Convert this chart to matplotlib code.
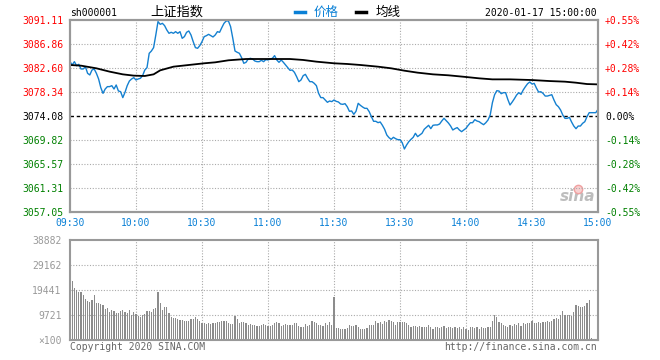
import matplotlib
matplotlib.use("Agg")
import matplotlib.pyplot as plt
from matplotlib.lines import Line2D

plt.rcParams['font.family'] = ['DejaVu Sans Mono', 'Noto Sans CJK SC']

# minute prices 09:30 .. 11:30 (121 points) and 13:01 .. 15:00 (120 points)
price_am = [
    3083.72, 3083.13, 3083.72, 3083.01, 3083.25, 3082.42, 3082.42, 3082.83, 3081.65, 3081.36,
    3082.24, 3082.42, 3081.65, 3080.65, 3079.11, 3078.10, 3078.87, 3079.29, 3079.29, 3079.46,
    3078.87, 3079.58, 3078.52, 3078.40, 3077.34, 3078.28, 3079.46, 3080.29, 3080.65, 3080.88,
    3080.47, 3080.65, 3080.77, 3081.24, 3082.24, 3082.66, 3085.20, 3085.61, 3086.21, 3088.45,
    3090.82, 3090.34, 3090.52, 3090.11, 3089.34, 3088.75, 3088.93, 3088.75, 3089.04, 3088.75,
    3089.04, 3087.86, 3088.16, 3088.93, 3089.16, 3088.45, 3087.27, 3086.21, 3086.09, 3086.56,
    3087.27, 3088.16, 3088.33, 3088.57, 3088.33, 3088.10, 3088.45, 3089.04, 3088.93, 3089.75,
    3090.52, 3090.94, 3090.94, 3089.93, 3087.86, 3085.61, 3085.38, 3085.20, 3084.43, 3083.43,
    3083.60, 3084.19, 3084.31, 3084.19, 3083.84, 3083.72, 3083.72, 3083.96, 3083.72, 3084.08,
    3084.02, 3084.19, 3084.31, 3084.79, 3084.02, 3083.60, 3084.02, 3083.60, 3083.13, 3082.66,
    3082.18, 3082.24, 3081.83, 3081.06, 3080.17, 3080.47, 3081.24, 3081.47, 3080.77, 3080.17,
    3080.17, 3079.88, 3079.46, 3078.10, 3077.34, 3077.34, 3076.92, 3076.51, 3076.74, 3076.63,
    3076.92,
]
price_pm = [
    3076.68, 3076.57, 3076.21, 3076.15, 3076.27, 3075.74, 3074.91, 3074.97, 3074.38, 3074.91,
    3076.33, 3075.97, 3075.68, 3075.44, 3075.44, 3074.85, 3073.96, 3073.14, 3073.14, 3072.90,
    3073.02, 3072.43, 3071.72, 3070.71, 3070.24, 3069.94, 3070.30, 3070.06, 3069.88, 3069.88,
    3069.35, 3068.23, 3068.94, 3069.53, 3069.94, 3070.30, 3071.01, 3070.42, 3070.71, 3071.01,
    3071.72, 3072.07, 3072.43, 3071.84, 3072.43, 3072.49, 3072.49, 3072.66, 3073.20, 3073.67,
    3073.26, 3072.84, 3072.31, 3071.60, 3071.84, 3072.02, 3071.60, 3071.30, 3071.60, 3071.90,
    3072.43, 3072.89, 3072.89, 3073.43, 3073.19, 3073.07, 3072.78, 3072.54, 3072.89, 3073.37,
    3074.25, 3076.44, 3077.86, 3078.57, 3078.51, 3078.04, 3078.22, 3078.22, 3077.03, 3076.03,
    3076.56, 3077.15, 3077.80, 3078.22, 3077.92, 3078.69, 3079.28, 3079.81, 3080.11, 3079.75,
    3079.87, 3079.04, 3078.33, 3078.39, 3078.10, 3077.62, 3077.62, 3077.74, 3077.86, 3076.91,
    3076.09, 3075.73, 3075.14, 3074.25, 3073.66, 3073.66, 3073.84, 3073.01, 3072.30, 3071.83,
    3072.30, 3072.30, 3072.78, 3073.07, 3073.96, 3074.67, 3074.67, 3074.67, 3074.67, 3075.26,
]

# average line, read at some minutes
avg_min = [0, 5, 12, 18, 24, 29, 34, 38, 41, 47, 54, 61, 66, 72, 80, 90, 100, 106, 112, 120,
           126, 132, 140, 146, 152, 158, 165, 172, 180, 186, 192, 200, 210, 218, 225, 230, 235, 240]
avg_val = [3083.13, 3083.01, 3082.54, 3081.95, 3081.47, 3081.24, 3081.18, 3081.47, 3082.18, 3082.83,
           3083.13, 3083.43, 3083.60, 3083.96, 3084.19, 3084.19, 3084.19, 3084.02, 3083.72, 3083.43,
           3083.31, 3083.13, 3082.83, 3082.54, 3082.12, 3081.77, 3081.47, 3081.30, 3081.00, 3080.76,
           3080.58, 3080.58, 3080.46, 3080.28, 3080.17, 3079.99, 3079.75, 3079.69]

# volume per minute (x100 shares)
vol_am = [
    38882, 23050, 20340, 19440, 18540, 18800, 17500, 15940, 15160, 14900,
    15420, 17500, 14510, 14510, 14000, 13480, 12050, 12570, 10750, 11660,
    11270, 10620, 10620, 11270, 11660, 11020, 10620, 11660, 9720, 10880,
    9980, 9460, 9070, 9720, 9980, 11270, 11270, 10750, 12050, 12570,
    18660, 14510, 11660, 12960, 12960, 10620, 8810, 8420, 8420, 8030,
    7780, 7780, 7520, 7520, 7520, 8030, 8290, 9070, 8030, 7520,
    6740, 6480, 6090, 6480, 6090, 6480, 6480, 7000, 7000, 7390,
    7390, 7390, 6480, 6220, 6220, 9330, 8290, 6740, 7130, 7130,
    6740, 5830, 6090, 5830, 5830, 5440, 5570, 5830, 6090, 5830,
    5440, 5440, 5700, 6480, 7000, 6740, 5440, 5960, 6220, 5960,
    5700, 5960, 6740, 6480, 5440, 5180, 5180, 6220, 5440, 5960,
    7520, 7000, 6480, 5700, 5960, 5440, 6480, 5960, 7000, 6000,
    16850,
]
vol_pm = [
    4670, 4670, 4150, 4150, 4280, 4540, 5830, 5440, 5440, 5830,
    4930, 4280, 4280, 4280, 4540, 5830, 5830, 5830, 7520, 6480,
    7000, 6220, 7520, 7130, 7780, 7260, 7000, 5700, 7000, 7000,
    7000, 7000, 6740, 5830, 5180, 5440, 5440, 4930, 5440, 5180,
    5180, 4930, 5700, 4930, 4410, 4930, 4930, 4670, 4930, 5440,
    4670, 4930, 4930, 4540, 4930, 4540, 4930, 4410, 4930, 4150,
    3890, 4930, 4930, 4670, 4930, 4410, 5180, 4670, 4670, 5180,
    4930, 7390, 9720, 8810, 7000, 6740, 5960, 5440, 5180, 5700,
    5440, 6220, 5700, 6480, 5440, 6480, 6220, 6740, 6480, 7260,
    6740, 6740, 7000, 6740, 7000, 7000, 7520, 7000, 7520, 8030,
    8550, 8290, 9590, 11150, 9850, 9590, 9850, 9330, 11020, 13600,
    13220, 12700, 12960, 13220, 14260, 15550, 650, 0, 0, 0,
]

pre_close = 3074.08
price_ticks = [3057.05, 3061.31, 3065.57, 3069.82, 3074.08, 3078.34, 3082.60, 3086.86, 3091.11]
pct_labels = ['-0.55%', '-0.42%', '-0.28%', '-0.14%', '0.00%', '+0.14%', '+0.28%', '+0.42%', '+0.55%']
vol_ticks = [0, 9721, 19441, 29162, 38882]
vol_labels = ['×100', '9721', '19441', '29162', '38882']
time_labels = ['09:30', '10:00', '10:30', '11:00', '11:30', '13:30', '14:00', '14:30', '15:00']

prices = price_am + price_pm
vols = vol_am + vol_pm
minutes = list(range(len(prices)))

RED, GREEN, BLUE, GRAY = '#ff0000', '#008000', '#0a80d6', '#999999'
W, H = 660, 360


def fbox(x0, y0, x1, y1):
    return [x0 / W, 1 - y1 / H, (x1 - x0) / W, (y1 - y0) / H]


fig = plt.figure(figsize=(6.6, 3.6), dpi=100)
ax = fig.add_axes(fbox(70, 20, 598, 212))
axv = fig.add_axes(fbox(70, 240, 598, 340))

grid_kw = dict(color='#aaaaaa', lw=0.8, ls=(0, (1, 1.5)))

# price panel
ax.plot(minutes, prices, color='#1480d0', lw=1.0, zorder=3)
ax.plot(avg_min, avg_val, color='black', lw=1.3, zorder=3)
for t in price_ticks[1:-1]:
    if t == pre_close:
        ax.axhline(t, color='black', lw=1.0, ls=(0, (2.5, 2)), zorder=2)
    else:
        ax.axhline(t, **grid_kw, zorder=1)
for m in range(30, 240, 30):
    ax.axvline(m, **grid_kw, zorder=1)
ax.set_xlim(0, 240)
ax.set_ylim(price_ticks[0], price_ticks[-1])
ax.set_yticks(price_ticks)
ax.set_yticklabels(['%.2f' % t for t in price_ticks], fontsize=7)
ax.set_xticks(range(0, 241, 30))
ax.set_xticklabels(time_labels, fontsize=7, color=BLUE)
ax.tick_params(length=0, pad=5)
ax.tick_params(axis='x', pad=4)

axr = ax.twinx()
axr.set_ylim(price_ticks[0], price_ticks[-1])
axr.set_yticks(price_ticks)
axr.set_yticklabels(pct_labels, fontsize=7)
axr.tick_params(length=0, pad=5)

for lab_l, lab_r, t in zip(ax.get_yticklabels(), axr.get_yticklabels(), price_ticks):
    c = 'black' if t == pre_close else (RED if t > pre_close else GREEN)
    lab_l.set_color(c)
    lab_r.set_color(c)

for a in (ax, axr, axv):
    for s in a.spines.values():
        s.set_color(GRAY)
        s.set_linewidth(1.5)

# watermark
ax.text(0.995, 0.04, 'sina', transform=ax.transAxes, ha='right', va='bottom',
        fontsize=11, fontstyle='italic', fontweight='bold', color='#bdbdbd',
        family='DejaVu Sans', zorder=0)
ax.plot([0.962], [0.12], 'o', transform=ax.transAxes, ms=6, mfc='#f8d0d0',
        mec='#f0a0a0', zorder=0)

# volume panel
axv.bar(minutes, vols, width=0.5, color='#8c8c8c', lw=0, zorder=2)
for t in vol_ticks[1:-1]:
    axv.axhline(t, **grid_kw, zorder=1)
for m in range(30, 240, 30):
    axv.axvline(m, **grid_kw, zorder=1)
axv.set_xlim(0, 240)
axv.set_ylim(0, vol_ticks[-1])
axv.set_yticks(vol_ticks)
axv.set_yticklabels(vol_labels, fontsize=7, color=GRAY)
axv.set_xticks([])
axv.tick_params(length=0, pad=6)

# header
fig.text(70 / W, 1 - 13 / H, 'sh000001', fontsize=7, va='center', ha='left')
fig.text(150 / W, 1 - 12 / H, '上证指数', fontsize=9.5, va='center', ha='left',
         family=['Noto Sans CJK SC'])
fig.add_artist(Line2D([295 / W, 305 / W], [1 - 12 / H] * 2, color=BLUE, lw=2.5))
fig.text(314 / W, 1 - 12 / H, '价格', fontsize=9, va='center', ha='left', color=BLUE,
         family=['Noto Sans CJK SC'])
fig.add_artist(Line2D([356 / W, 366 / W], [1 - 12 / H] * 2, color='black', lw=2.5))
fig.text(376 / W, 1 - 12 / H, '均线', fontsize=9, va='center', ha='left',
         family=['Noto Sans CJK SC'])
fig.text(597 / W, 1 - 13 / H, '2020-01-17 15:00:00', fontsize=7, va='center', ha='right')

# footer
fig.text(70 / W, 1 - 347 / H, 'Copyright 2020 SINA.COM', fontsize=7, va='center',
         ha='left', color='#666666')
fig.text(597 / W, 1 - 347 / H, 'http://finance.sina.com.cn', fontsize=7, va='center',
         ha='right', color='#666666')

fig.savefig('out.png', dpi=100, facecolor='white')
